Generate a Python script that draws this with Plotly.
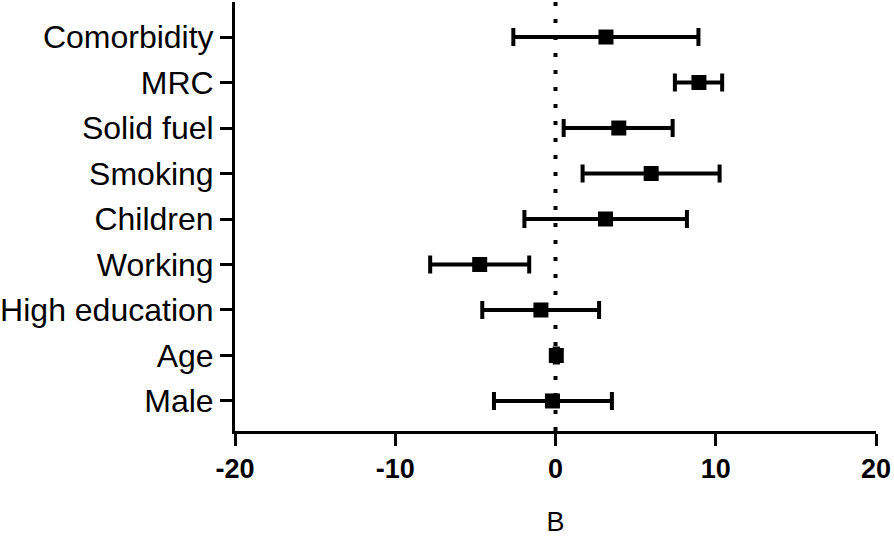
import plotly.graph_objects as go

categories = ["Male", "Age", "High education", "Working", "Children",
              "Smoking", "Solid fuel", "MRC", "Comorbidity"]
estimate = [-0.19, 0.05, -0.91, -4.73, 3.12, 5.97, 3.95, 8.95, 3.15]
ci_low = [-3.84, -0.05, -4.57, -7.82, -1.94, 1.69, 0.51, 7.45, -2.63]
ci_high = [3.52, 0.15, 2.72, -1.64, 8.20, 10.24, 7.31, 10.40, 8.92]
x_ticks = [-20, -10, 0, 10, 20]

ypos = list(range(len(categories)))
plus = [h - e for h, e in zip(ci_high, estimate)]
minus = [e - l for e, l in zip(estimate, ci_low)]

fig = go.Figure()
fig.add_shape(type="line", x0=0, x1=0, y0=-0.66, y1=8.77, xref="x", yref="y",
              line=dict(color="black", width=4, dash="4px,13px"), layer="below")
fig.add_trace(go.Scatter(
    x=estimate, y=ypos, mode="markers",
    marker=dict(symbol="square", size=15, color="black"),
    error_x=dict(type="data", symmetric=False, array=plus, arrayminus=minus,
                 color="black", thickness=4, width=9),
    showlegend=False,
))

fig.update_layout(
    width=894, height=537,
    margin=dict(l=235, r=18, t=2, b=106),
    paper_bgcolor="white", plot_bgcolor="white",
    font=dict(family="Arial, Liberation Sans, sans-serif", color="black"),
    xaxis=dict(range=[-20, 20], tickvals=x_ticks, ticktext=[str(v) for v in x_ticks],
               automargin=False,
               showgrid=False, zeroline=False, showline=True, linewidth=3, linecolor="black",
               ticks="outside", ticklen=12, tickwidth=3, tickcolor="black",
               tickfont=dict(size=27, family="Liberation Sans Narrow, Arial, Liberation Sans", weight="bold"),
               title=dict(text="B", font=dict(size=27), standoff=30)),
    yaxis=dict(range=[-0.66, 8.77], tickvals=ypos, ticktext=categories,
               automargin=False,
               showgrid=False, zeroline=False, showline=True, linewidth=3, linecolor="black",
               ticks="outside", ticklen=12, tickwidth=3, tickcolor="black",
               tickfont=dict(size=32)),
)

fig.write_html("out.html", config={"displayModeBar": False},
               post_script="document.body.style.margin='0';document.body.style.overflow='hidden';")
